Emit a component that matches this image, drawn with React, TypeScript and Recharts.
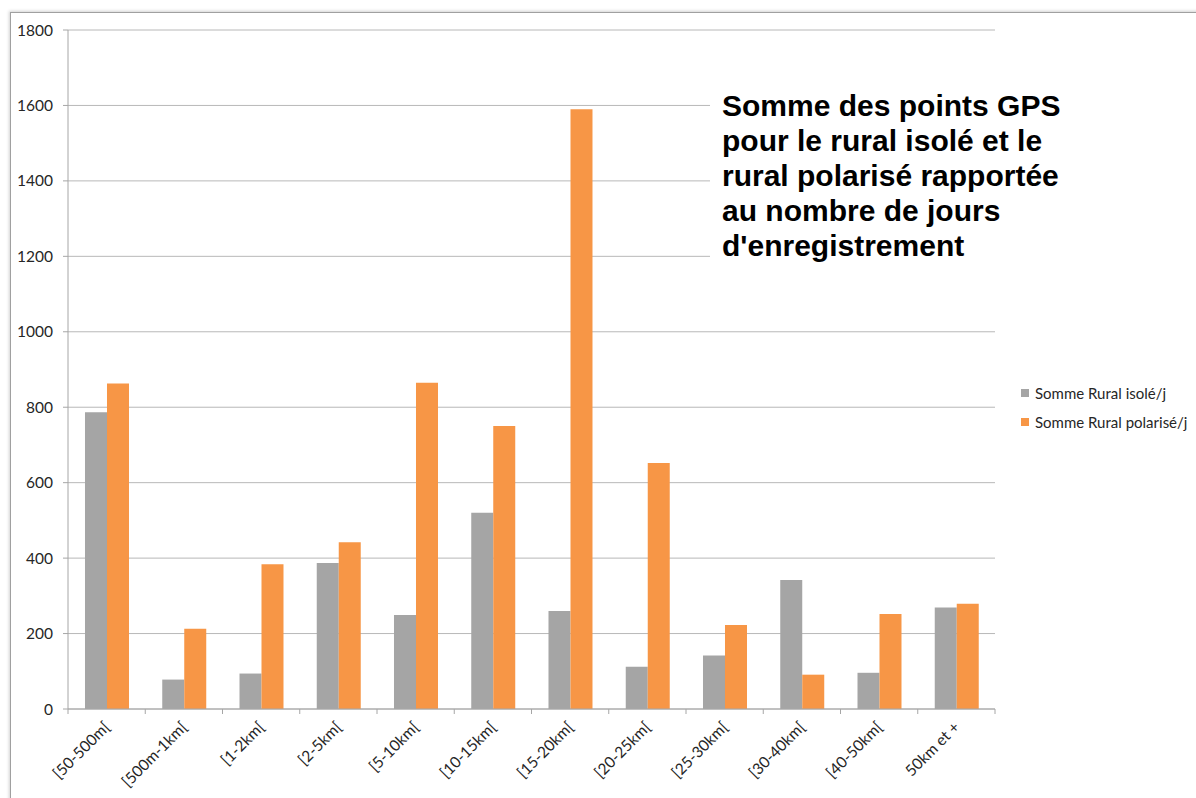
import { Bar, BarChart, CartesianGrid, XAxis, YAxis } from "recharts";

const categories = [
  "[50-500m[",
  "[500m-1km[",
  "[1-2km[",
  "[2-5km[",
  "[5-10km[",
  "[10-15km[",
  "[15-20km[",
  "[20-25km[",
  "[25-30km[",
  "[30-40km[",
  "[40-50km[",
  "50km et +",
];
const ruralIsole = [787, 78, 94, 387, 249, 520, 260, 112, 142, 342, 96, 269];
const ruralPolarise = [863, 213, 384, 442, 865, 750, 1590, 652, 223, 91, 252, 279];
const yTicks = [0, 200, 400, 600, 800, 1000, 1200, 1400, 1600, 1800];

const seriesNames = ["Somme Rural isolé/j", "Somme Rural polarisé/j"];
const seriesColors = ["#a5a5a5", "#f79646"];

const data = categories.map((label, i) => ({
  label,
  isole: ruralIsole[i],
  polarise: ruralPolarise[i],
}));

const W = 1196;
const H = 798;
const PLOT_LEFT = 68;
const PLOT_RIGHT = 995;
const BAND = (PLOT_RIGHT - PLOT_LEFT) / categories.length;
const FONT = "Lato, 'Open Sans', sans-serif";

function CategoryTick(props: any) {
  const { x, y, payload, index } = props;
  const left = x - BAND / 2;
  const right = x + BAND / 2;
  return (
    <g>
      <line x1={left} x2={left} y1={y - 5} y2={y} stroke="#a6a6a6" />
      {index === categories.length - 1 && (
        <line x1={right} x2={right} y1={y - 5} y2={y} stroke="#a6a6a6" />
      )}
      <text
        x={x}
        y={y + 10}
        textAnchor="end"
        dominantBaseline="central"
        transform={`rotate(-45, ${x}, ${y + 10})`}
        fontFamily={FONT}
        fontSize={15.5}
        fill="#262626"
      >
        {payload.value}
      </text>
    </g>
  );
}

function ChartLegend() {
  return (
    <div
      style={{
        position: "absolute",
        left: 1021,
        top: 378,
        fontFamily: FONT,
        fontSize: 15,
        color: "#262626",
        whiteSpace: "nowrap",
      }}
    >
      {seriesNames.map((name, i) => (
        <div key={name} style={{ display: "flex", alignItems: "center", height: 29 }}>
          <span
            style={{
              width: 8,
              height: 8,
              background: seriesColors[i],
              marginRight: 6,
              display: "inline-block",
            }}
          />
          {name}
        </div>
      ))}
    </div>
  );
}

export default function App() {
  return (
    <div
      style={{
        position: "absolute",
        left: 0,
        top: 0,
        width: W,
        height: H,
        overflow: "hidden",
        background: "#fff",
      }}
    >
      <div
        style={{
          position: "absolute",
          left: 10,
          top: 12,
          width: 1300,
          height: 900,
          border: "1px solid #a0a0a0",
          boxShadow: "-1px -1px 3px rgba(0,0,0,0.18)",
        }}
      />
      <div style={{ position: "absolute", left: 0, top: 0 }}>
        <BarChart
          width={W}
          height={H}
          data={data}
          margin={{ top: 30, right: W - PLOT_RIGHT, bottom: 0, left: 0 }}
          barCategoryGap="22%"
          barGap={0}
        >
          <CartesianGrid vertical={false} stroke="#b8b8b8" />
          <XAxis
            dataKey="label"
            height={89}
            stroke="#a6a6a6"
            tickLine={false}
            tickSize={5}
            tickMargin={0}
            interval={0}
            tick={<CategoryTick />}
          />
          <YAxis
            width={PLOT_LEFT}
            domain={[0, 1800]}
            ticks={yTicks}
            stroke="#a6a6a6"
            tickSize={5}
            tickMargin={10}
            tick={{ fontFamily: FONT, fontSize: 15.5, fill: "#262626" }}
          />
          <Bar dataKey="isole" name={seriesNames[0]} fill={seriesColors[0]} isAnimationActive={false} />
          <Bar dataKey="polarise" name={seriesNames[1]} fill={seriesColors[1]} isAnimationActive={false} />
        </BarChart>
      </div>
      <ChartLegend />
      <div
        style={{
          position: "absolute",
          left: 710,
          top: 88,
          width: 360,
          height: 182,
          background: "#fff",
          paddingLeft: 12,
          boxSizing: "border-box",
          whiteSpace: "nowrap",
          fontFamily: "'Liberation Sans', Arial, sans-serif",
          fontWeight: "bold",
          fontSize: 30,
          lineHeight: "35px",
          color: "#000",
        }}
      >
        Somme des points GPS
        <br />
        pour le rural isolé et le
        <br />
        rural polarisé rapportée
        <br />
        au nombre de jours
        <br />
        d'enregistrement
      </div>
    </div>
  );
}
